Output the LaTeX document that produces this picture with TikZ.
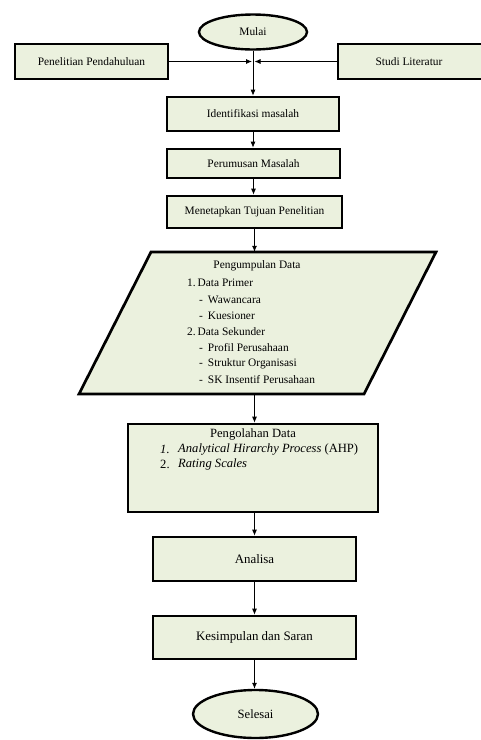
\documentclass[tikz,border=0pt]{standalone}
\usepackage{fontspec}
\setmainfont{Liberation Serif}
\usetikzlibrary{arrows.meta,shapes.geometric}
\definecolor{boxfill}{HTML}{EBF1DE}
\tikzset{
  x=1pt, y=-1pt,
  stepbox/.style={draw=black, line width=2.7pt, fill=boxfill, rectangle, inner sep=0pt, font=\rmfamily\fontsize{11.4}{13}\selectfont},
  bigbox/.style={stepbox, font=\rmfamily\fontsize{12.9}{15}\selectfont},
  termnode/.style={draw=black, line width=2.4pt, fill=boxfill, ellipse, inner sep=0pt},
  arr/.style={-{Latex[length=6pt,width=5pt]}, line width=0.8pt},
  txt/.style={inner sep=0pt, anchor=west, font=\rmfamily\fontsize{11.4}{13}\selectfont},
  txtb/.style={inner sep=0pt, anchor=west, font=\rmfamily\fontsize{12.6}{15}\selectfont},
}
\begin{document}
\begin{tikzpicture}
\useasboundingbox (0,0) rectangle (481,740);

% terminals
\node[termnode, minimum width=108, minimum height=35, font=\rmfamily\fontsize{11.4}{13}\selectfont] (mulai) at (253,32) {Mulai};
\node[termnode, minimum width=125, minimum height=48, font=\rmfamily\fontsize{12.6}{15}\selectfont] (selesai) at (255.5,714) {Selesai};

% side boxes
\node[stepbox, minimum width=153, minimum height=35] (pp) at (91.5,61.5) {Penelitian Pendahuluan};
\node[stepbox, minimum width=152, minimum height=35] (sl) at (414,61.5) {\hspace*{-10pt}Studi Literatur};

% main steps
\node[stepbox, minimum width=172, minimum height=34] (id) at (253,114) {Identifikasi masalah};
\node[stepbox, minimum width=173, minimum height=29] (pm) at (253.5,163.5) {Perumusan Masalah};
\node[stepbox, minimum width=175, minimum height=32] (mt) at (254.5,212) {Menetapkan Tujuan Penelitian};

% parallelogram
\draw[line width=2.7pt, fill=boxfill, line join=miter] (151,252) -- (436,252) -- (364,394) -- (79,394) -- cycle;
\node[minimum width=357, minimum height=142, inner sep=0pt] (pd) at (257.5,323) {};
\node[txt, anchor=center] (pd0) at (257,266) {Pengumpulan Data};
\node[txt] (pd1) at (187,283) {1.\,Data Primer};
\node[txt] (pd2) at (199,300) {-\hspace{5pt}Wawancara};
\node[txt] (pd3) at (199,316) {-\hspace{5pt}Kuesioner};
\node[txt] (pd4) at (187,332) {2.\,Data Sekunder};
\node[txt] (pd5) at (199,348) {-\hspace{5pt}Profil Perusahaan};
\node[txt] (pd6) at (199,364) {-\hspace{5pt}Struktur Organisasi};
\node[txt] (pd7) at (199,380) {-\hspace{5pt}SK Insentif Perusahaan};

% processing box
\node[bigbox, minimum width=250, minimum height=88] (po) at (253,468) {};
\node[txtb, anchor=center] (po0) at (253,434) {Pengolahan Data};
\node[txtb] (po1n) at (160,449) {\textit{1.}};
\node[txtb] (po1) at (178,449) {\textit{Analytical Hirarchy Process} (AHP)};
\node[txtb] (po2n) at (160,464) {2.};
\node[txtb] (po2) at (178,464) {\textit{Rating Scales}};

\node[bigbox, minimum width=203, minimum height=44] (an) at (254.5,559) {Analisa};
\node[bigbox, minimum width=203, minimum height=43] (ks) at (254.5,637.5) {Kesimpulan dan Saran};

% junction
\coordinate (jL) at (252,61.5);
\coordinate (jR) at (254.5,61.5);

% connectors
\draw[arr] (pp.east) -- (jL);
\draw[arr] (sl.west |- jR) -- (jR);
\draw[arr] (mulai.south) -- (mulai.south |- id.north);
\draw[arr] (id.south) -- (id.south |- pm.north);
\draw[arr] (pm.south) -- (pm.south |- mt.north);
\draw[arr] (mt.south) -- (mt.south |- pd.north);
\draw[arr] (mt.south |- pd.south) -- (mt.south |- po.north);
\draw[arr] (an.north |- po.south) -- (an.north);
\draw[arr] (an.south) -- (ks.north);
\draw[arr] (ks.south) -- (ks.south |- selesai.north);
\end{tikzpicture}
\end{document}
